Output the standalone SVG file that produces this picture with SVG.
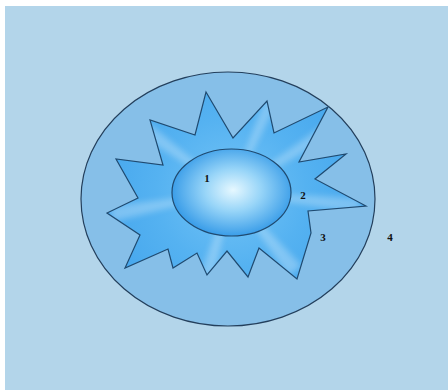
<svg xmlns="http://www.w3.org/2000/svg" width="448" height="390" viewBox="0 0 448 390">
  <style>
    .lbl { font-family: "Liberation Serif", "Times New Roman", serif; font-weight: bold; font-size: 11px; fill: #111; text-anchor: middle; }
    .edge { stroke: #233f5c; stroke-width: 1.2; }
  </style>
  <defs>
    <radialGradient id="starGrad" cx="231" cy="192" r="150" gradientUnits="userSpaceOnUse">
      <stop offset="0" stop-color="#74c4f6"/>
      <stop offset="0.5" stop-color="#55b2f1"/>
      <stop offset="1" stop-color="#42a4ec"/>
    </radialGradient>
    <radialGradient id="coreGrad" cx="233" cy="190" r="62" gradientUnits="userSpaceOnUse" gradientTransform="translate(233 190) scale(1 0.75) translate(-233 -190)">
      <stop offset="0" stop-color="#e6f8ff"/>
      <stop offset="0.45" stop-color="#98d5f8"/>
      <stop offset="1" stop-color="#389ce8"/>
    </radialGradient>
    <filter id="soft" x="-20%" y="-20%" width="140%" height="140%">
      <feGaussianBlur stdDeviation="3"/>
    </filter>
    <clipPath id="starClip">
      <path d="M206,92 L233,138 L267,101 L274,133 L328,107 L299,162 L346,154 L315,179 L366,206 L308,211 L311,233 L297,279 L259,248 L248,277 L227,251 L207,275 L197,253 L173,268 L168,249 L125,268 L140,235 L107,213 L138,198 L116,159 L163,165 L150,120 L195,135 Z"/>
    </clipPath>
  </defs>

  <rect id="background" x="5" y="6" width="443" height="384" fill="#b3d5ea"/>

  <g id="node-4">
    <ellipse cx="228" cy="199" rx="147" ry="127" fill="#86bfe8" class="edge"/>
    <text class="lbl" x="390" y="241">4</text>
  </g>

  <g id="node-3">
    <path d="M206,92 L233,138 L267,101 L274,133 L328,107 L299,162 L346,154 L315,179 L366,206 L308,211 L311,233 L297,279 L259,248 L248,277 L227,251 L207,275 L197,253 L173,268 L168,249 L125,268 L140,235 L107,213 L138,198 L116,159 L163,165 L150,120 L195,135 Z" fill="url(#starGrad)"/>
    <g clip-path="url(#starClip)">
      <g fill="#ffffff" opacity="0.28" filter="url(#soft)">
        <polygon points="231,192 330,120 338,134"/>
        <polygon points="231,192 266,95 280,98"/>
        <polygon points="231,192 150,124 144,138"/>
        <polygon points="231,192 110,206 112,222"/>
        <polygon points="231,192 198,280 214,281"/>
        <polygon points="231,192 288,276 302,266"/>
        <polygon points="231,192 360,198 360,214"/>
      </g>
    </g>
    <path d="M206,92 L233,138 L267,101 L274,133 L328,107 L299,162 L346,154 L315,179 L366,206 L308,211 L311,233 L297,279 L259,248 L248,277 L227,251 L207,275 L197,253 L173,268 L168,249 L125,268 L140,235 L107,213 L138,198 L116,159 L163,165 L150,120 L195,135 Z" fill="none" stroke="#1f4a70" stroke-width="1.2"/>
    <text class="lbl" x="323" y="241">3</text>
  </g>

  <g id="node-1">
    <ellipse cx="231.5" cy="192.5" rx="59.5" ry="43.5" fill="url(#coreGrad)" stroke="#1f4a70" stroke-width="1.2"/>
    <text class="lbl" x="207" y="182">1</text>
  </g>

  <g id="node-2">
    <text class="lbl" x="303" y="199">2</text>
  </g>

  <g id="connectors"/>
</svg>
